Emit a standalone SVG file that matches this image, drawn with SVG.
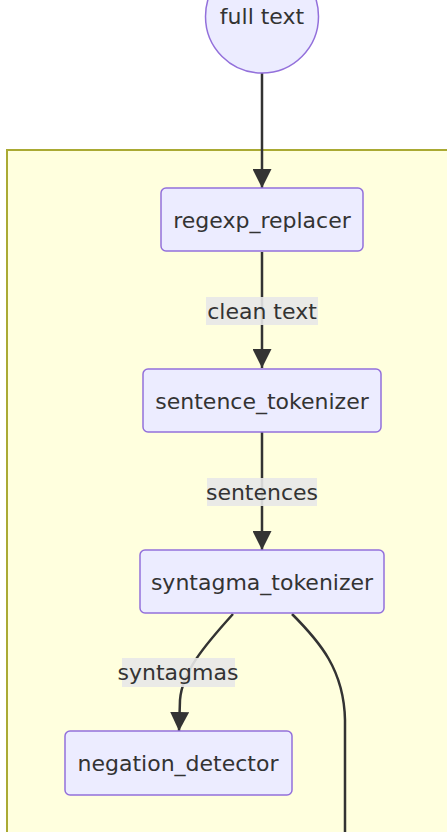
<svg xmlns="http://www.w3.org/2000/svg" width="447" height="832" viewBox="0 0 447 832">
  <defs>
    <marker id="arrow" viewBox="0 0 10 10" refX="10" refY="5" markerUnits="userSpaceOnUse" markerWidth="19" markerHeight="19" orient="auto">
      <path d="M0,0 L10,5 L0,10 z" fill="#333333"/>
    </marker>
  </defs>
  <style>
    .node rect, .node circle { fill: #ECECFF; stroke: #9370DB; stroke-width: 1.5; }
    .label { font-family: "DejaVu Sans", sans-serif; font-size: 22px; fill: #333333; text-anchor: middle; dominant-baseline: central; }
    .edge { fill: none; stroke: #333333; stroke-width: 2.5; }
    .edge-label rect { fill: #e8e8e8; opacity: 0.9; }
    .cluster rect { fill: #ffffde; stroke: #aaaa33; stroke-width: 2; }
  </style>

  <rect width="447" height="832" fill="#ffffff"/>

  <!-- pipeline cluster -->
  <g id="cluster-pipeline" class="cluster">
    <rect x="7" y="150" width="460" height="700"/>
  </g>

  <!-- connectors -->
  <g id="edges">
    <path class="edge" d="M262,73 L262,188" marker-end="url(#arrow)"/>
    <path class="edge" d="M262,252 L262,368" marker-end="url(#arrow)"/>
    <path class="edge" d="M262,432 L262,550" marker-end="url(#arrow)"/>
    <path class="edge" d="M233,614 C205,645 182,672 180,700 L179,731" marker-end="url(#arrow)"/>
    <path class="edge" d="M292,614 C320,642 344,670 345,720 L345,840"/>
  </g>

  <!-- edge labels -->
  <g id="edge-labels">
    <g class="edge-label">
      <rect x="206" y="297" width="112" height="28"/>
      <text class="label" x="262" y="311">clean text</text>
    </g>
    <g class="edge-label">
      <rect x="207" y="478" width="110" height="28"/>
      <text class="label" x="262" y="492">sentences</text>
    </g>
    <g class="edge-label">
      <rect x="122" y="658" width="113" height="29"/>
      <text class="label" x="178" y="672">syntagmas</text>
    </g>
  </g>

  <!-- nodes -->
  <g id="node-full-text" class="node">
    <circle cx="262" cy="16.5" r="56.5"/>
    <text class="label" x="262" y="16">full text</text>
  </g>
  <g id="node-regexp-replacer" class="node">
    <rect x="161" y="188" width="202" height="63" rx="5"/>
    <text class="label" x="262" y="220">regexp_replacer</text>
  </g>
  <g id="node-sentence-tokenizer" class="node">
    <rect x="143" y="369" width="238" height="63" rx="5"/>
    <text class="label" x="262" y="401">sentence_tokenizer</text>
  </g>
  <g id="node-syntagma-tokenizer" class="node">
    <rect x="140" y="550" width="244" height="63" rx="5"/>
    <text class="label" x="262" y="582">syntagma_tokenizer</text>
  </g>
  <g id="node-negation-detector" class="node">
    <rect x="65" y="731" width="227" height="64" rx="5"/>
    <text class="label" x="178" y="763">negation_detector</text>
  </g>
</svg>
